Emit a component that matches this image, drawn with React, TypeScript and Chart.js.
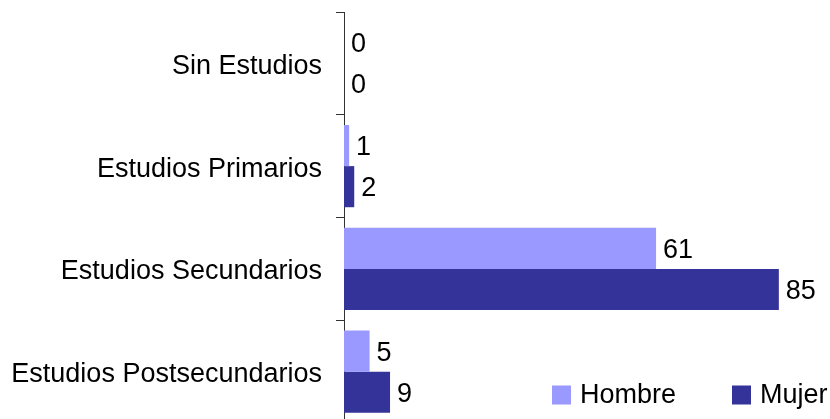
import React, { useEffect, useRef } from "react";
import { Chart, registerables } from "chart.js";

Chart.register(...registerables);

const categories = [
  "Sin Estudios",
  "Estudios Primarios",
  "Estudios Secundarios",
  "Estudios Postsecundarios",
];
const hombreValues = [0, 1, 61, 5];
const mujerValues = [0, 2, 85, 9];
const seriesNames = ["Hombre", "Mujer"];
const seriesColors = ["#9999FF", "#333399"];

const FONT = '"Liberation Sans", Arial, sans-serif';
const FONT_SIZE = 27;

const valueLabels = {
  id: "valueLabels",
  afterDatasetsDraw(chart: any) {
    const ctx = chart.ctx;
    ctx.save();
    ctx.font = `${FONT_SIZE}px ${FONT}`;
    ctx.fillStyle = "#000";
    ctx.textAlign = "left";
    ctx.textBaseline = "middle";
    chart.data.datasets.forEach((ds: any, di: number) => {
      const meta = chart.getDatasetMeta(di);
      meta.data.forEach((bar: any, i: number) => {
        ctx.fillText(String(ds.data[i]), bar.x + 7, bar.y + 2);
      });
    });
    ctx.restore();
  },
};

const customLegend = {
  id: "customLegend",
  afterDraw(chart: any) {
    const ctx = chart.ctx;
    ctx.save();
    ctx.font = `${FONT_SIZE}px ${FONT}`;
    ctx.textBaseline = "middle";
    ctx.textAlign = "left";
    const positions = [552, 732];
    const y = 395;
    chart.data.datasets.forEach((ds: any, i: number) => {
      const x = positions[i];
      ctx.fillStyle = ds.backgroundColor;
      ctx.fillRect(x, y - 9.5, 19, 19);
      ctx.fillStyle = "#000";
      ctx.fillText(ds.label, x + 28, y + 1);
    });
    ctx.restore();
  },
};

export default function App() {
  const ref = useRef<HTMLCanvasElement>(null);
  useEffect(() => {
    if (!ref.current) return;
    const chart = new Chart(ref.current, {
      type: "bar",
      data: {
        labels: categories,
        datasets: [
          {
            label: seriesNames[0],
            data: hombreValues,
            backgroundColor: seriesColors[0],
            categoryPercentage: 0.8,
            barPercentage: 1,
          },
          {
            label: seriesNames[1],
            data: mujerValues,
            backgroundColor: seriesColors[1],
            categoryPercentage: 0.8,
            barPercentage: 1,
          },
        ],
      },
      options: {
        indexAxis: "y",
        responsive: false,
        animation: false,
        layout: { padding: { top: 12, bottom: 1, left: 0, right: 0 } },
        plugins: {
          legend: { display: false },
          tooltip: { enabled: false },
        },
        scales: {
          x: {
            display: false,
            min: 0,
            max: 95,
          },
          y: {
            afterFit(scale: any) {
              scale.width = 344;
              scale.paddingTop = 0;
              scale.paddingBottom = 0;
            },
            grid: {
              display: true,
              drawOnChartArea: false,
              drawTicks: true,
              tickLength: 8,
              offset: true,
              color: "#333",
              lineWidth: 1,
            },
            border: { display: true, color: "#333", width: 1 },
            ticks: {
              color: "#000",
              padding: 14,
              labelOffset: 3,
              font: { family: FONT, size: FONT_SIZE },
            },
          },
        },
      },
      plugins: [valueLabels, customLegend],
    });
    return () => chart.destroy();
  }, []);
  return (
    <div
      style={{
        position: "fixed",
        left: 0,
        top: 0,
        width: 830,
        height: 419,
        overflow: "hidden",
        background: "#fff",
      }}
    >
      <canvas ref={ref} width={830} height={424} style={{ display: "block" }} />
    </div>
  );
}
